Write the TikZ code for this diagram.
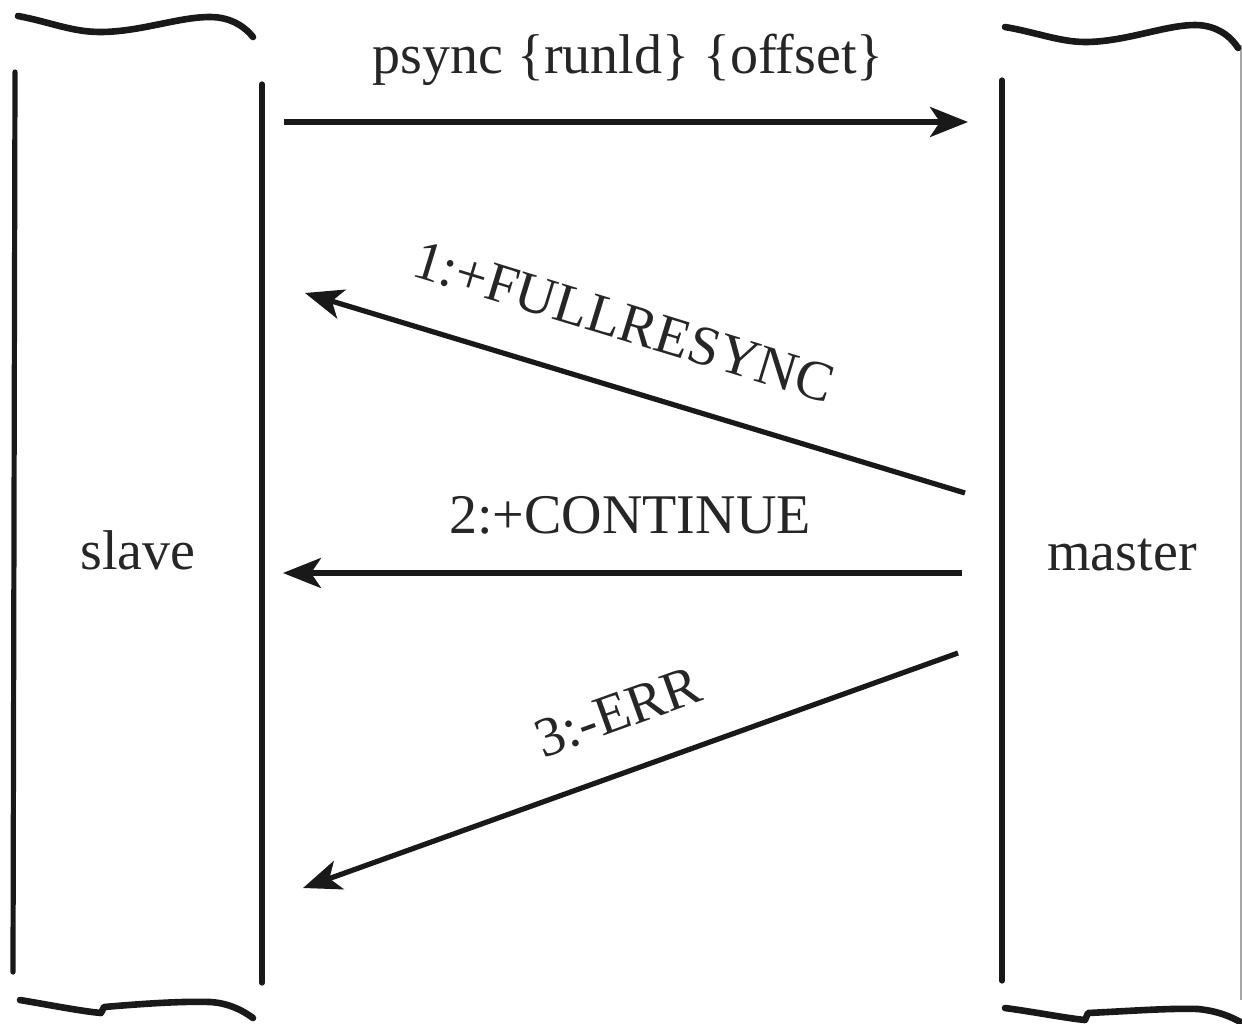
\documentclass[tikz,border=0pt]{standalone}
\usepackage{fontspec}
\setmainfont{Liberation Serif}
\usetikzlibrary{arrows.meta}
\begin{document}
\begin{tikzpicture}[x=0.5pt,y=-0.5pt,
  lbl/.style={font=\fontsize{28}{31}\selectfont, inner sep=0pt, text=black!85},
  lifeline/.style={line width=2.6pt, line cap=round, black!90},
  brace/.style={line width=3.3pt, line cap=round, line join=round, black!90},
  msg/.style={line width=2.6pt, black!90, -{Stealth[length=19pt,width=15pt,inset=5pt]}}]
\useasboundingbox (0,0) rectangle (1242,1023);
\fill[white] (0,0) rectangle (1242,1023);

% slave box
\draw[lifeline] (15,72) -- (13,972);
\draw[lifeline] (262,84) -- (262,983);
\draw[brace] (18,16) .. controls (50,22) and (72,32) .. (100,32)
  .. controls (140,32) and (178,17) .. (210,17)
  .. controls (232,17) and (246,28) .. (253,37);
\draw[brace] (20,1000) .. controls (50,1005) and (80,1011) .. (101,1013)
  -- (104,1007) .. controls (140,1004) and (180,1001) .. (210,1002)
  .. controls (230,1003) and (245,1012) .. (253,1018);

% master box
\draw[lifeline] (1002,80) -- (1002,981);
\draw[line width=0.6pt, black!35] (1241,45) -- (1241,1000);
\draw[brace] (1005,27) .. controls (1035,32) and (1060,42) .. (1085,42)
  .. controls (1125,42) and (1165,25) .. (1195,25)
  .. controls (1218,25) and (1232,38) .. (1238,48);
\draw[brace] (1005,1008) .. controls (1035,1012) and (1065,1018) .. (1085,1020)
  -- (1088,1013) .. controls (1130,1011) and (1170,1008) .. (1198,1009)
  .. controls (1218,1011) and (1232,1017) .. (1242,1023);

% participants
\node[lbl, anchor=base] (slave) at (138,569) {slave};
\node[lbl, anchor=base] (master) at (1122,570) {master};

% endpoints
\coordinate (p1) at (284,122);
\coordinate (p2) at (968,122);
\coordinate (f1) at (965,493);
\coordinate (f2) at (305,293);
\coordinate (c1) at (962,573);
\coordinate (c2) at (283,573);
\coordinate (e1) at (958,653);
\coordinate (e2) at (303,888);

% messages
\draw[msg] (p1) -- (p2);
\draw[msg] (f1) -- (f2);
\draw[msg] (c1) -- (c2);
\draw[msg] (e1) -- (e2);

% labels
\node[lbl, anchor=base] (lpsync) at (628,73) {psync \{runld\} \{offset\}};
\node[lbl, rotate=-17] (lfull) at (624,322) {1:+FULLRESYNC};
\node[lbl, anchor=base] (lcont) at (630,533) {2:+CONTINUE};
\node[lbl, rotate=19.8] (lerr) at (618,712) {3:-ERR};
\end{tikzpicture}
\end{document}
